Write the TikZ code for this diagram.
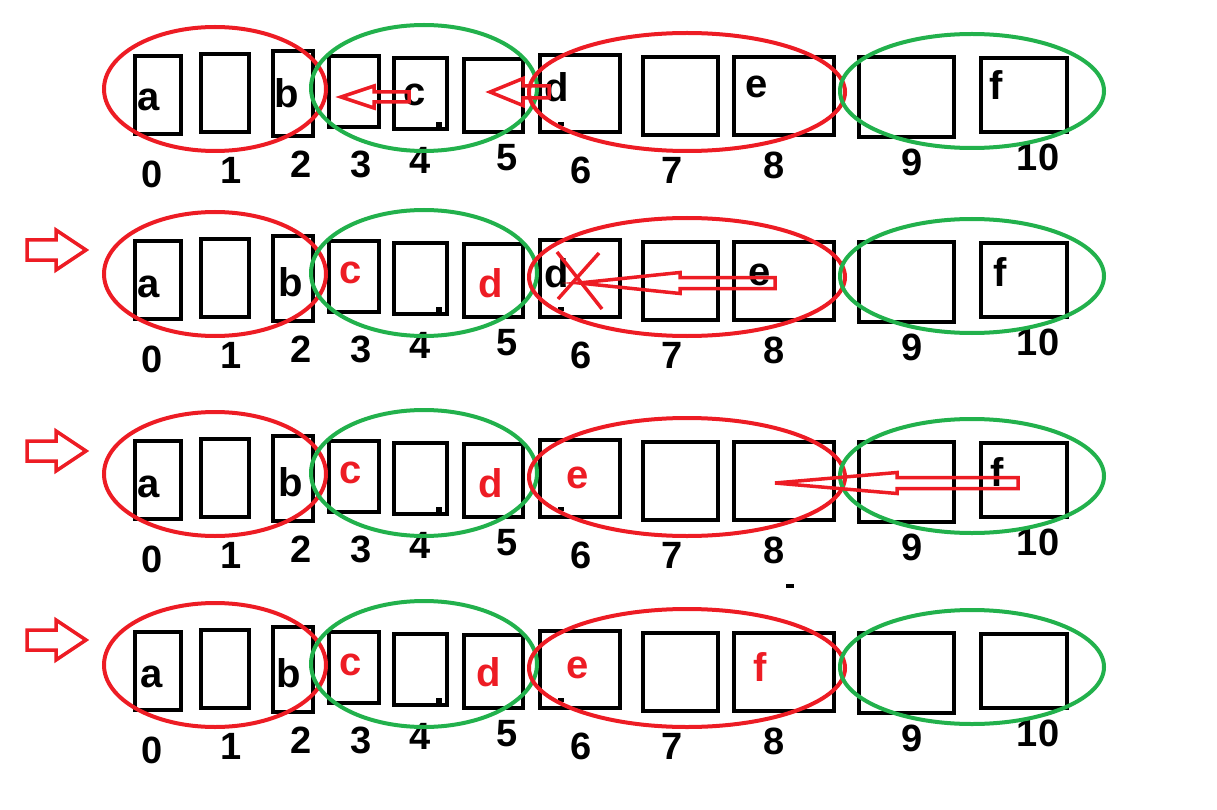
\documentclass[tikz,border=0pt]{standalone}
\usepackage{fontspec}
\setmainfont{Liberation Sans}
\usetikzlibrary{calc}
\definecolor{paintred}{RGB}{237,28,36}
\definecolor{paintgreen}{RGB}{34,177,76}

\newcommand{\slotrow}[1]{%
  \foreach \i/\xa/\ya/\xb/\yb in {0/135/56/181/134, 1/201/54/249/132, 2/273/51/313/136,
      3/329/56/379/127, 4/394/58/447/129, 5/464/59/523/132, 6/540/55/620/132,
      7/643/57/718/135, 8/734/57/834/135, 9/859/57/954/137, 10/981/58/1067/132}
    \draw[slot] (\xa,\ya) rectangle (\xb,\yb);
  \fill (436,122) rectangle (442,128);
  \fill (558,122) rectangle (564,126);
  \foreach \i/\x/\y in {0/152/174, 1/231/170, 2/301/164, 3/361/164, 4/420/160, 5/507/158,
      6/581/170, 7/672/170, 8/774/165, 9/912/162, 10/1038/157}
    \node[idx] (#1i\i) at (\x,\y) {\i};
  \draw[redring] (215,89) ellipse (111 and 62);
  \draw[greenring] (424,88) ellipse (113 and 63);
  \draw[redring] (687,92) ellipse (158 and 59);
  \draw[greenring] (972,91) ellipse (132 and 57);
}

\newcommand{\movearrow}[5]{%
  \coordinate (hb) at ($(#2)!#3pt!(#1)$);
  \draw[movearr] ($(#1)!#5pt!90:(#2)$) -- ($(hb)!#5pt!90:(#2)$) -- ($(hb)!#4pt!90:(#2)$) -- (#2)
    -- ($(hb)!#4pt!-90:(#2)$) -- ($(hb)!#5pt!-90:(#2)$) -- ($(#1)!#5pt!-90:(#2)$) -- cycle;
}

\begin{document}
\begin{tikzpicture}[x=1pt,y=-1pt,
  slot/.style={draw=black,line width=4.5pt},
  redring/.style={draw=paintred,line width=4pt},
  greenring/.style={draw=paintgreen,line width=4pt},
  idx/.style={inner sep=0pt,font=\fontsize{38}{40}\selectfont\bfseries},
  elem/.style={inner sep=0pt,font=\fontsize{40}{44}\selectfont\bfseries},
  moved/.style={elem,text=paintred},
  movearr/.style={draw=paintred,line width=3.5pt,line join=miter},
  crossout/.style={draw=paintred,line width=3.5pt}]
\useasboundingbox (0,0) rectangle (1217,810);

\slotrow{ra}
\node[elem] (raa) at (149,100) {a};
\node[elem] (rab) at (287,93) {b};
\node[elem] (rac) at (415,95) {c};
\node[elem] (rad) at (557,87) {d};
\node[elem] (rae) at (757,87) {e};
\node[elem] (raf) at (996,85) {f};
\coordinate (racfrom) at (409,97); \coordinate (racto) at (341,97);
\movearrow{racfrom}{racto}{33}{11}{5}
\coordinate (radfrom) at (549,92); \coordinate (radto) at (490,92);
\movearrow{radfrom}{radto}{33}{13.5}{6}

\begin{scope}[shift={(0,185)}]
\slotrow{rb}
\coordinate (rbstepfrom) at (27,65); \coordinate (rbstepto) at (86,65);
\movearrow{rbstepfrom}{rbstepto}{30}{20}{10}
\node[elem] (rba) at (149,102) {a};
\node[elem] (rbb) at (291,97) {b};
\node[moved] (rbc) at (351,88) {c};
\node[moved] (rbd) at (491,98) {d};
\node[elem] (rbdold) at (557,88) {d};
\node[elem] (rbe) at (760,90) {e};
\node[elem] (rbf) at (1000,87) {f};
\draw[crossout] (557,67) -- (602,124);
\draw[crossout] (599,68) -- (558,114);
\coordinate (rbefrom) at (775,98); \coordinate (rbeto) at (579,98);
\movearrow{rbefrom}{rbeto}{101}{10.5}{5.5}
\end{scope}

\begin{scope}[shift={(0,385)}]
\slotrow{rc}
\coordinate (rcstepfrom) at (27,66); \coordinate (rcstepto) at (86,66);
\movearrow{rcstepfrom}{rcstepto}{30}{20}{10}
\node[elem] (rca) at (149,102) {a};
\node[elem] (rcb) at (291,97) {b};
\node[moved] (rcc) at (351,88) {c};
\node[moved] (rcd) at (491,98) {d};
\node[moved] (rce) at (578,93) {e};
\node[elem] (rcf) at (997,87) {f};
\coordinate (rcffrom) at (1018,98); \coordinate (rcfto) at (775,98);
\movearrow{rcffrom}{rcfto}{122}{10.5}{5.5}
\fill (786,199) rectangle (794,203);
\end{scope}

\begin{scope}[shift={(0,576)}]
\slotrow{rd}
\coordinate (rdstepfrom) at (27,64); \coordinate (rdstepto) at (86,64);
\movearrow{rdstepfrom}{rdstepto}{30}{20}{10}
\node[elem] (rda) at (152,101) {a};
\node[elem] (rdb) at (289,97) {b};
\node[moved] (rdc) at (351,89) {c};
\node[moved] (rdd) at (489,96) {d};
\node[moved] (rde) at (578,92) {e};
\node[moved] (rdf) at (760,91) {f};
\end{scope}
\end{tikzpicture}
\end{document}
